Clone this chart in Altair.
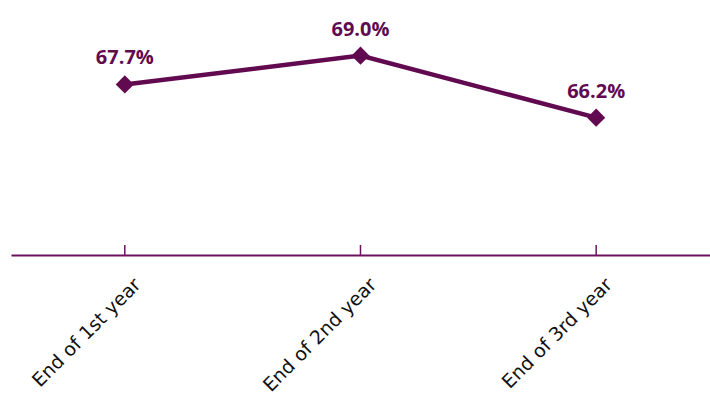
import altair as alt
import pandas as pd

# Retention rate at each checkpoint
periods = ["End of 1st year", "End of 2nd year", "End of 3rd year"]
rates = [67.7, 69.0, 66.2]
labels = ["67.7%", "69.0%", "66.2%"]

PURPLE = "#620a50"
AXIS = "#6a1260"

df = pd.DataFrame({"period": periods, "rate": rates, "label": labels})

x = alt.X(
    "period:N",
    sort=periods,
    scale=alt.Scale(type="point", padding=0.483),
    axis=alt.Axis(
        title=None,
        domain=True,
        domainColor=AXIS,
        domainWidth=2,
        ticks=False,
        grid=False,
        labelAngle=-45,
        labelAlign="right",
        labelBaseline="top",
        labelPadding=20,
        labelOffset=6,
        labelFont="DejaVu Sans",
        labelFontSize=19,
        labelColor="#111111",
    ),
)
y = alt.Y(
    "rate:Q",
    scale=alt.Scale(domain=[60, 71.5], nice=False, zero=False),
    axis=None,
)

base = alt.Chart(df).encode(x=x, y=y)

line = base.mark_line(color=PURPLE, strokeWidth=4.5)
points = base.mark_point(
    shape="diamond", filled=True, size=330, color=PURPLE, opacity=1
)
text = base.mark_text(
    dy=-20,
    baseline="alphabetic",
    font="Open Sans",
    fontWeight="bold",
    fontSize=20,
    color=PURPLE,
).encode(text="label:N")

# Inward tick marks on the category axis
ticks = (
    alt.Chart(df)
    .mark_rule(color=AXIS, strokeWidth=1.5)
    .encode(x=x, y=alt.value(245), y2=alt.value(255))
)

chart = (
    alt.layer(ticks, line, points, text)
    .properties(
        width=700,
        height=255,
        background="white",
        padding={"left": 11, "right": 0, "top": 0, "bottom": 0},
    )
    .configure_view(strokeWidth=0)
)

chart.save("out.html", embed_options={"renderer": "svg", "actions": False})
